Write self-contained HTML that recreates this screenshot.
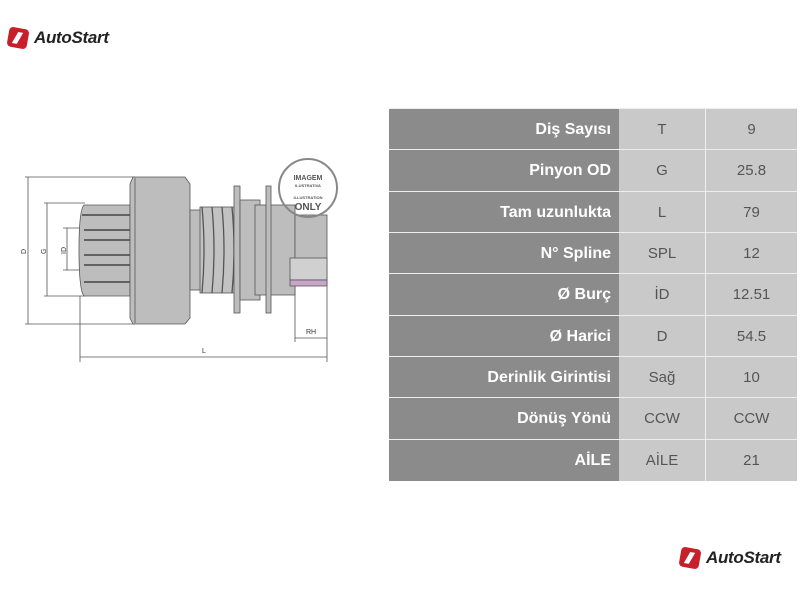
<!DOCTYPE html>
<html><head><meta charset="utf-8"><style>
body{margin:0;width:800px;height:600px;background:#fff;position:relative;overflow:hidden;font-family:"Liberation Sans",sans-serif}
.logo{position:absolute;display:flex;align-items:center;font-style:italic;font-weight:bold;color:#222;font-size:17px;letter-spacing:-0.3px}
.logo .ic{width:20px;height:20px;background:#c8202a;border-radius:4px;margin-right:6px;transform:rotate(10deg);position:relative}
.logo .ic:after{content:"";position:absolute;left:7px;top:4px;width:5px;height:12px;background:#fff;transform:skew(-20deg)}
.t{position:absolute;left:389px;top:108px;width:408px;height:372px}
.row{position:absolute;left:0;width:408px;height:41px;border-top:1px solid #eee}
.c1{position:absolute;left:0;width:222px;height:100%;background:#8b8b8b;color:#fff;font-weight:bold;font-size:16px;text-align:right;line-height:41px}
.c2{position:absolute;left:230px;width:86px;height:100%;background:#c9c9c9;color:#555;font-size:15px;text-align:center;line-height:41px;border-right:1px solid #eee}
.c3{position:absolute;left:317px;width:91px;height:100%;background:#c9c9c9;color:#555;font-size:15px;text-align:center;line-height:41px}
.c1bg{position:absolute;left:222px;width:8px;height:100%;background:#8b8b8b}
</style></head><body>
<div class="logo" style="left:8px;top:28px"><div class="ic"></div>AutoStart</div>
<div class="logo" style="left:680px;top:548px"><div class="ic"></div>AutoStart</div>

<svg style="position:absolute;left:0;top:0" width="390" height="400" viewBox="0 0 390 400">
<g stroke="#555" stroke-width="0.8" fill="#bdbdbd">
<line x1="25" y1="177" x2="135" y2="177"/><line x1="25" y1="324" x2="135" y2="324"/>
<line x1="28" y1="177" x2="28" y2="324"/>
<line x1="44" y1="203" x2="85" y2="203"/><line x1="44" y1="296" x2="85" y2="296"/>
<line x1="47" y1="203" x2="47" y2="296"/>
<line x1="63" y1="228" x2="85" y2="228"/><line x1="63" y1="270" x2="85" y2="270"/>
<line x1="67" y1="228" x2="67" y2="270"/>
<line x1="80" y1="296" x2="80" y2="362"/><line x1="327" y1="285" x2="327" y2="362"/>
<line x1="80" y1="357" x2="327" y2="357"/>
<line x1="295" y1="285" x2="295" y2="342"/><line x1="295" y1="338" x2="327" y2="338"/>
<path d="M84 205 L130 205 L130 296 L84 296 Q79 290 79 250 Q79 210 84 205Z"/>
<g stroke="#444" stroke-width="1.5"><line x1="82" y1="215" x2="130" y2="215"/><line x1="84" y1="230" x2="130" y2="230"/><line x1="84" y1="240" x2="130" y2="240"/><line x1="84" y1="255" x2="130" y2="255"/><line x1="84" y1="265" x2="130" y2="265"/><line x1="84" y1="282" x2="130" y2="282"/></g>
<path d="M133 177 L185 177 L190 184 L190 318 L185 324 L133 324 L130 318 L130 184Z"/>
<line x1="135" y1="178" x2="135" y2="323"/>
<rect x="190" y="210" width="12" height="80"/>
<rect x="200" y="207" width="35" height="86" fill="#c2c2c2"/>
<g fill="none" stroke="#555" stroke-width="1.3"><path d="M202 207 Q206 250 202 293"/><path d="M212 207 Q216 250 212 293"/><path d="M222 207 Q226 250 222 293"/><path d="M232 207 Q236 250 232 293"/></g>
<rect x="234" y="186" width="6" height="127"/>
<rect x="240" y="200" width="20" height="100"/>
<rect x="255" y="205" width="40" height="90"/>
<rect x="266" y="186" width="5" height="127"/>
<rect x="295" y="215" width="32" height="70"/>
<rect x="290" y="258" width="37" height="22" fill="#d0d0d0"/>
<rect x="290" y="280" width="37" height="6" fill="#c9a6c9"/>
</g>
<g fill="#333" font-size="7"><text x="20" y="252" transform="rotate(-90 24 250)">D</text><text x="40" y="252" transform="rotate(-90 44 250)">G</text><text x="60" y="252" transform="rotate(-90 64 250)">ID</text><text x="202" y="353">L</text><text x="306" y="334">RH</text></g>
<circle cx="308" cy="188" r="29" fill="none" stroke="#888" stroke-width="2"/>
<g fill="#555" text-anchor="middle" font-weight="bold"><text x="308" y="180" font-size="7">IMAGEM</text><text x="308" y="187" font-size="4">ILUSTRATIVA</text><text x="308" y="199" font-size="4">ILLUSTRATION</text><text x="308" y="210" font-size="10">ONLY</text></g>
</svg>

<div class="t">
<div class="row" style="top:0"><div class="c1">Diş Sayısı</div><div class="c1bg"></div><div class="c2">T</div><div class="c3">9</div></div>
<div class="row" style="top:41.3px"><div class="c1">Pinyon OD</div><div class="c1bg"></div><div class="c2">G</div><div class="c3">25.8</div></div>
<div class="row" style="top:82.6px"><div class="c1">Tam uzunlukta</div><div class="c1bg"></div><div class="c2">L</div><div class="c3">79</div></div>
<div class="row" style="top:124px"><div class="c1">N° Spline</div><div class="c1bg"></div><div class="c2">SPL</div><div class="c3">12</div></div>
<div class="row" style="top:165.3px"><div class="c1">Ø Burç</div><div class="c1bg"></div><div class="c2">İD</div><div class="c3">12.51</div></div>
<div class="row" style="top:206.6px"><div class="c1">Ø Harici</div><div class="c1bg"></div><div class="c2">D</div><div class="c3">54.5</div></div>
<div class="row" style="top:248px"><div class="c1">Derinlik Girintisi</div><div class="c1bg"></div><div class="c2">Sağ</div><div class="c3">10</div></div>
<div class="row" style="top:289.3px"><div class="c1">Dönüş Yönü</div><div class="c1bg"></div><div class="c2">CCW</div><div class="c3">CCW</div></div>
<div class="row" style="top:330.6px"><div class="c1">AİLE</div><div class="c1bg"></div><div class="c2">AİLE</div><div class="c3">21</div></div>
</div>
</body></html>
